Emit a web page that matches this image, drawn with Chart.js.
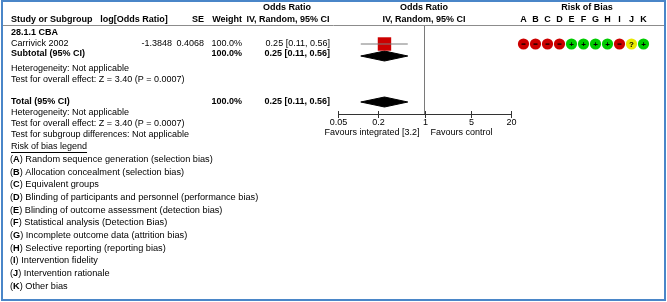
<!DOCTYPE html>
<html>
<head>
<meta charset="utf-8">
<script src="https://cdn.jsdelivr.net/npm/chart.js@4.4.1/dist/chart.umd.min.js"></script>
<style>
  html, body { margin: 0; padding: 0; background: #fff; }
</style>
</head>
<body>
<canvas id="forest" width="667" height="302"></canvas>
<script>
// ---- data ----
const groupTitle = '28.1.1 CBA';
const studies = ['Carrivick 2002'];
const logOR = ['-1.3848'];
const se = ['0.4068'];
const weights = [100.0];
const oddsRatio = [0.25];
const ciLow = [0.11];
const ciHigh = [0.56];
const subtotalCI = [0.25, 0.11, 0.56];
const totalCI = [0.25, 0.11, 0.56];
const axisTicks = [0.05, 0.2, 1, 5, 20];
const axisTickLabels = ['0.05', '0.2', '1', '5', '20'];
const robDomains = ['A', 'B', 'C', 'D', 'E', 'F', 'G', 'H', 'I', 'J', 'K'];
const robJudgements = [['-', '-', '-', '-', '+', '+', '+', '+', '-', '?', '+']];
const robLegend = [
  'Random sequence generation (selection bias)',
  'Allocation concealment (selection bias)',
  'Equivalent groups',
  'Blinding of participants and personnel (performance bias)',
  'Blinding of outcome assessment (detection bias)',
  'Statistical analysis (Detection Bias)',
  'Incomplete outcome data (attrition bias)',
  'Selective reporting (reporting bias)',
  'Intervention fidelity',
  'Intervention rationale',
  'Other bias'
];

// row layout (pixels from top)
const headerLine = 25;
const rowGroup = 33, rowStudy = 44, rowSub = 56, rowTotal = 102, axisY = 114;
const diamondHalf = 5;
const FONT = '"Liberation Sans", Arial, sans-serif';

function fmtCI(a) { return a[0].toFixed(2) + ' [' + a[1].toFixed(2) + ', ' + a[2].toFixed(2) + ']'; }

function diamond(ci, y) {
  return [
    { x: ci[1], y: y }, { x: ci[0], y: y - diamondHalf },
    { x: ci[2], y: y }, { x: ci[0], y: y + diamondHalf }, { x: ci[1], y: y }
  ];
}

const datasets = [];
// null line
datasets.push({
  data: [{ x: 1, y: headerLine }, { x: 1, y: axisY }],
  borderColor: '#7a7a7a', borderWidth: 1, pointRadius: 0
});
// study CI lines + squares
studies.forEach((s, i) => {
  datasets.push({
    data: [{ x: ciLow[i], y: rowStudy + i * 11 }, { x: ciHigh[i], y: rowStudy + i * 11 }],
    borderColor: '#7a7a7a', borderWidth: 1, pointRadius: 0
  });
  datasets.push({
    data: [{ x: oddsRatio[i], y: rowStudy + i * 11 }],
    showLine: false, pointStyle: 'rect', pointRadius: 9.5,
    backgroundColor: '#cc0000', borderWidth: 0
  });
});
// subtotal and total diamonds
[[subtotalCI, rowSub], [totalCI, rowTotal]].forEach(([ci, y]) => {
  datasets.push({
    data: diamond(ci, y), fill: 'shape',
    backgroundColor: '#000', borderColor: '#000', borderWidth: 1, pointRadius: 0
  });
});

const tablePlugin = {
  id: 'forestTable',
  afterDraw(chart) {
    const ctx = chart.ctx;
    const xs = chart.scales.x;
    ctx.save();
    ctx.textBaseline = 'middle';
    ctx.fillStyle = '#000';
    const txt = (s, x, y, align, bold) => {
      ctx.font = (bold ? 'bold ' : '') + '9px ' + FONT;
      ctx.textAlign = align || 'left';
      ctx.fillText(s, x, y);
    };

    // header
    txt('Odds Ratio', 287, 7.5, 'center', true);
    txt('Odds Ratio', 424, 7.5, 'center', true);
    txt('Risk of Bias', 587, 7.5, 'center', true);
    txt('Study or Subgroup', 11, 19.5, 'left', true);
    txt('log[Odds Ratio]', 134, 19.5, 'center', true);
    txt('SE', 204, 19.5, 'right', true);
    txt('Weight', 242, 19.5, 'right', true);
    txt('IV, Random, 95% CI', 288, 19.5, 'center', true);
    txt('IV, Random, 95% CI', 424, 19.5, 'center', true);
    robDomains.forEach((d, j) => txt(d, 523.5 + j * 12, 19.5, 'center', true));

    ctx.strokeStyle = '#8c8c8c';
    ctx.lineWidth = 1;
    ctx.beginPath(); ctx.moveTo(2, headerLine + 0.5); ctx.lineTo(665, headerLine + 0.5); ctx.stroke();

    // group + studies
    txt(groupTitle, 11, rowGroup, 'left', true);
    studies.forEach((s, i) => {
      const y = rowStudy + i * 11;
      txt(s, 11, y);
      txt(logOR[i], 172, y, 'right');
      txt(se[i], 204, y, 'right');
      txt(weights[i].toFixed(1) + '%', 242, y, 'right');
      txt(fmtCI([oddsRatio[i], ciLow[i], ciHigh[i]]), 330, y, 'right');
      robJudgements[i].forEach((r, j) => {
        const cx = 523.5 + j * 12;
        ctx.beginPath();
        ctx.arc(cx, y, 5.6, 0, Math.PI * 2);
        ctx.fillStyle = r === '+' ? '#00cc00' : r === '-' ? '#cc0000' : '#e8e800';
        ctx.fill();
        ctx.fillStyle = '#000';
        if (r === '-') {
          ctx.fillRect(cx - 2, y - 0.5, 4, 1.2);
        } else {
          ctx.font = 'bold 8px ' + FONT;
          ctx.textAlign = 'center';
          ctx.fillText(r, cx, y + 0.5);
        }
      });
    });
    ctx.fillStyle = '#000';
    txt('Subtotal (95% CI)', 11, rowSub - 2.5, 'left', true);
    txt('100.0%', 242, rowSub - 2.5, 'right', true);
    txt(fmtCI(subtotalCI), 330, rowSub - 2.5, 'right', true);
    txt('Heterogeneity: Not applicable', 11, 69);
    txt('Test for overall effect: Z = 3.40 (P = 0.0007)', 11, 80);

    txt('Total (95% CI)', 11, rowTotal, 'left', true);
    txt('100.0%', 242, rowTotal, 'right', true);
    txt(fmtCI(totalCI), 330, rowTotal, 'right', true);
    txt('Heterogeneity: Not applicable', 11, 113);
    txt('Test for overall effect: Z = 3.40 (P = 0.0007)', 11, 124);
    txt('Test for subgroup differences: Not applicable', 11, 135);

    // risk of bias legend
    ctx.font = '9px ' + FONT;
    const lt = 'Risk of bias legend';
    txt(lt, 11, 147);
    const lw = ctx.measureText(lt).width;
    ctx.strokeStyle = '#000';
    ctx.beginPath(); ctx.moveTo(11, 152.5); ctx.lineTo(11 + lw, 152.5); ctx.stroke();
    robLegend.forEach((item, j) => {
      const y = 159.5 + j * 12.65;
      let x = 10;
      ctx.font = '9.2px ' + FONT; ctx.textAlign = 'left';
      ctx.fillText('(', x, y); x += ctx.measureText('(').width;
      ctx.font = 'bold 9.2px ' + FONT;
      ctx.fillText(robDomains[j], x, y); x += ctx.measureText(robDomains[j]).width;
      ctx.font = '9.2px ' + FONT;
      ctx.fillText(') ' + item, x, y);
    });

    // x axis
    const x0 = xs.getPixelForValue(axisTicks[0]);
    const x1 = xs.getPixelForValue(axisTicks[axisTicks.length - 1]);
    ctx.strokeStyle = '#333';
    ctx.beginPath(); ctx.moveTo(x0, axisY + 0.5); ctx.lineTo(x1, axisY + 0.5); ctx.stroke();
    axisTicks.forEach((t, k) => {
      const px = Math.round(xs.getPixelForValue(t)) + 0.5;
      ctx.beginPath(); ctx.moveTo(px, axisY - 3); ctx.lineTo(px, axisY + 4); ctx.stroke();
      txt(axisTickLabels[k], px, axisY + 9, 'center');
    });
    const x1p = xs.getPixelForValue(1);
    txt('Favours integrated [3.2]', x1p - 5, 133, 'right');
    txt('Favours control', x1p + 6, 133, 'left');

    // frame
    ctx.strokeStyle = '#4a86c8';
    ctx.lineWidth = 2;
    ctx.strokeRect(2, 1, 663, 299);
    ctx.restore();
  }
};

new Chart(document.getElementById('forest'), {
  type: 'line',
  data: { datasets: datasets },
  options: {
    responsive: false,
    animation: false,
    events: [],
    layout: { autoPadding: false, padding: { left: 338, right: 156, top: 0, bottom: 0 } },
    plugins: { legend: { display: false }, tooltip: { enabled: false } },
    scales: {
      x: { type: 'logarithmic', min: 0.05, max: 20, display: false },
      y: { type: 'linear', min: 0, max: 302, reverse: true, display: false }
    }
  },
  plugins: [tablePlugin]
});
</script>
</body>
</html>
